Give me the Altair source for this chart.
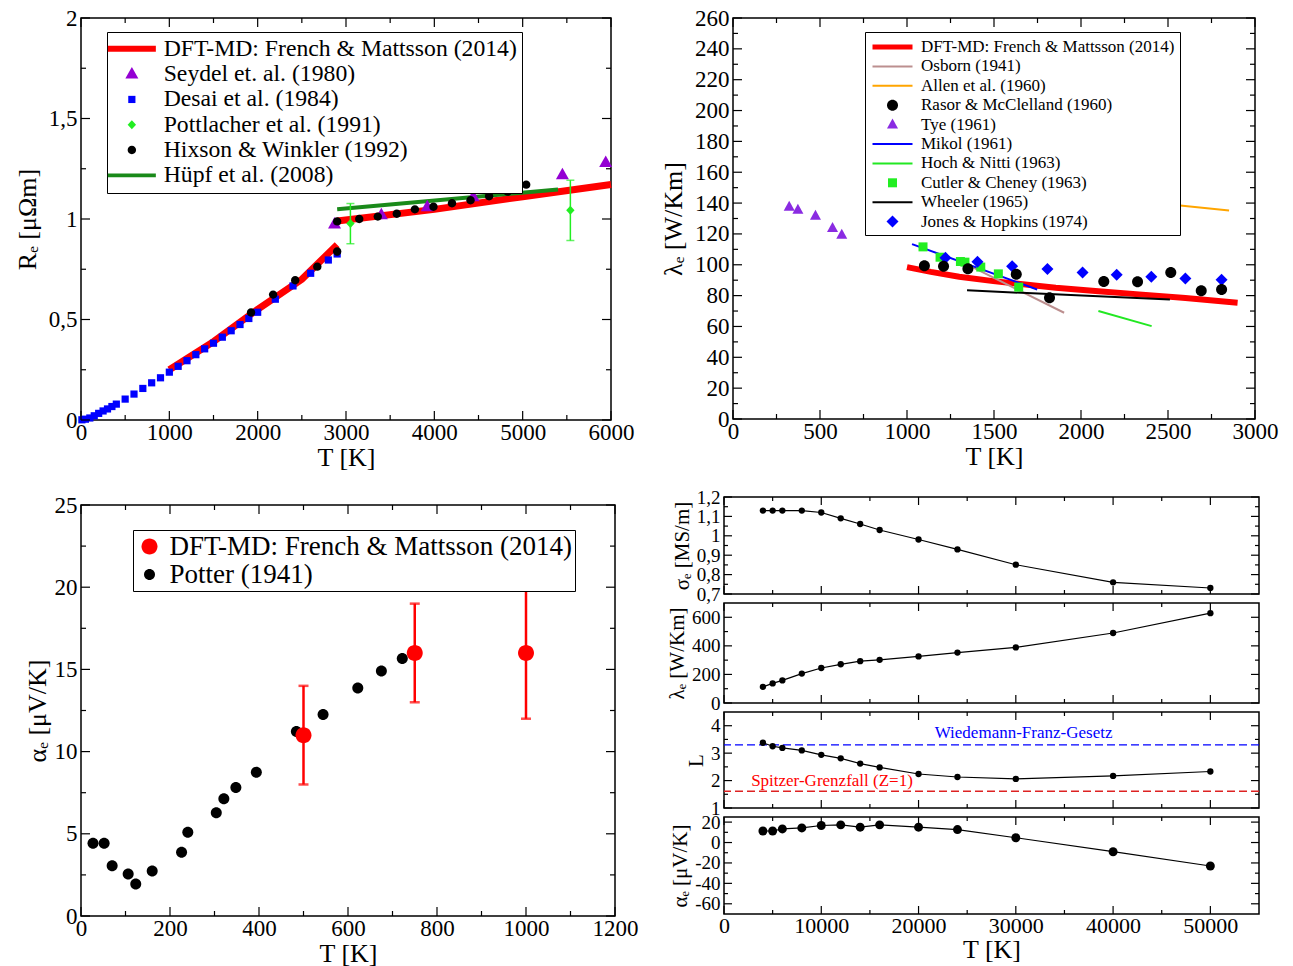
import altair as alt
import pandas as pd

FONT = "Liberation Serif"
LBL = "replace(replace(datum.label, '.', ','), '\u2212', '-')"

# ---------------- Panel 1: electrical resistivity ----------------
desai_T = [10, 50, 100, 150, 200, 250, 300, 350, 400, 500, 600, 700, 800, 900, 1000,
           1100, 1200, 1300, 1400, 1500, 1600, 1700, 1800, 1900, 2000, 2200, 2400, 2600, 2800, 2900]
desai_R = [0.001, 0.004, 0.010, 0.021, 0.033, 0.045, 0.055, 0.067, 0.079, 0.104, 0.129, 0.157,
           0.185, 0.210, 0.238, 0.267, 0.295, 0.325, 0.354, 0.382, 0.412, 0.444, 0.475, 0.505,
           0.536, 0.601, 0.667, 0.730, 0.796, 0.826]
seydel_T = [2870, 3400, 3920, 4440, 5450, 5940]
seydel_R = [0.975, 1.02, 1.06, 1.11, 1.22, 1.28]
pott_T = [3050, 5540]
pott_R = [0.977, 1.043]
pott_err = [0.10, 0.15]
hix_T = [1925, 2175, 2425, 2675, 2900, 2900, 3150, 3360, 3575, 3780, 3990, 4200, 4410, 4620, 4830, 5040]
hix_R = [0.535, 0.624, 0.695, 0.763, 0.838, 0.988, 1.000, 1.012, 1.026, 1.048, 1.061, 1.078,
         1.093, 1.113, 1.136, 1.171]
dft1_T = [1000, 1500, 2000, 2500, 2900]
dft1_R = [0.25, 0.39, 0.551, 0.70, 0.872]
dft2_T = [2900, 4000, 5000, 6000]
dft2_R = [0.99, 1.048, 1.111, 1.172]
hupf_T = [2900, 5400]
hupf_R = [1.048, 1.147]

# ---------------- Panel 2: thermal conductivity ----------------
tye_T = [323, 373, 474, 572, 625]
tye_L = [137.5, 135.6, 131.7, 123.7, 119.4]
rasor_T = [1100, 1210, 1350, 1628, 1819, 2131, 2325, 2516, 2691, 2808]
rasor_L = [99.3, 99.1, 97.4, 93.9, 78.6, 89.2, 89.0, 95.0, 83.1, 84.0]
jones_T = [1221, 1405, 1604, 1807, 2009, 2205, 2404, 2600, 2808]
jones_L = [104.5, 101.9, 99.1, 97.2, 95.0, 93.5, 92.2, 91.1, 90.3]
cutler_T = [1092, 1190, 1307, 1333, 1424, 1525, 1642]
cutler_L = [111.6, 104.9, 102.1, 101.7, 98.5, 94.1, 85.5]
dftl_T = [1000, 1137, 1300, 1496, 1855, 2100, 2334, 2600, 2900]
dftl_L = [98.5, 95.4, 92.2, 89.4, 85.1, 82.8, 80.8, 78.4, 75.4]
osborn_T = [1353, 1903]
osborn_L = [99.8, 68.9]
allen_T = [2500, 2851]
allen_L = [139.3, 135.2]
mikol_T = [1029, 1748]
mikol_L = [113.4, 84.0]
hoch_T = [2100, 2406]
hoch_L = [70.0, 60.2]
wheeler_T = [1345, 2511]
wheeler_L = [83.4, 77.5]

# ---------------- Panel 3: thermopower ----------------
potter_T = [27, 52, 70, 106, 123, 160, 226, 240, 304, 321, 348, 394, 484, 544, 622, 675, 722]
potter_A = [4.43, 4.43, 3.05, 2.56, 1.95, 2.74, 3.88, 5.10, 6.28, 7.13, 7.82, 8.75, 11.23,
            12.25, 13.87, 14.91, 15.66]
dfta_T = [500, 750, 1000]
dfta_A = [11.0, 16.0, 16.0]
dfta_err = [3.0, 3.0, 4.0]

# ---------------- Panel 4: high-temperature DFT-MD ----------------
hot_T = [4000, 5000, 6000, 8000, 10000, 12000, 14000, 16000, 20000, 24000, 30000, 40000, 50000]
hot_sigma = [1.13, 1.13, 1.13, 1.13, 1.12, 1.09, 1.061, 1.03, 0.981, 0.93, 0.851, 0.76, 0.731]
hot_lambda = [113, 137, 158, 206, 245, 271, 293, 302, 326, 353, 389, 490, 629]
hot_L = [3.38, 3.25, 3.19, 3.10, 2.94, 2.81, 2.62, 2.48, 2.24, 2.13, 2.06, 2.17, 2.33]
hot_alpha = [11.3, 11.3, 13.3, 14.3, 16.7, 17.3, 15.0, 17.3, 15.0, 12.7, 4.7, -9.0, -23.0]
L_wf = 3.30
L_spitzer = 1.61
note_text = ["Wiedemann-Franz-Gesetz", "Spitzer-Grenzfall (Z=1)"]
note_T = [30800, 11100]
note_L = [3.72, 1.99]
note_color = ["#0000ff", "#ff0000"]


def circ(r):
    return f"M{r},0A{r},{r},0,1,1,{-r},0A{r},{r},0,1,1,{r},0Z"


def sq(a):
    return f"M{-a},{-a}H{a}V{a}H{-a}Z"


def tri(a, h):
    return f"M0,{-h * 0.62}L{a},{h * 0.38}L{-a},{h * 0.38}Z"


def dia(a, b):
    return f"M0,{-b}L{a},0L0,{b}L{-a},0Z"


def bar(a, t):
    return f"M{-a},{-t}H{a}V{t}H{-a}Z"


def axis(values, title, fs, tfs, labels=True, tpad=6, lpad=4):
    return alt.Axis(values=values, title=title, format="~r", labelExpr=LBL, ticks=False,
                    domain=False, grid=False, labels=labels, labelFont=FONT, labelFontSize=fs,
                    labelColor="black", labelPadding=lpad, labelFlush=False, labelOverlap=False,
                    titleFont=FONT, titleFontSize=tfs, titleFontWeight="normal",
                    titleColor="black", titlePadding=tpad)


class Panel:
    def __init__(self, xdom, ydom, xax, yax):
        self.xs = alt.Scale(domain=xdom, nice=False, zero=False)
        self.ys = alt.Scale(domain=ydom, nice=False, zero=False)
        self.xax = xax
        self.yax = yax

    def X(self, f="T"):
        return alt.X(f"{f}:Q", scale=self.xs, axis=self.xax)

    def Y(self, f="V"):
        return alt.Y(f"{f}:Q", scale=self.ys, axis=self.yax)

    def frame_ticks(self, xmaj, xmin, ymaj, ymin, w, h, L=9, l=5):
        out = []
        for vals, ln in ((xmaj, L), (xmin, l)):
            base = alt.Chart(pd.DataFrame({"T": vals})).mark_rule(color="black", strokeWidth=1.2)
            out.append(base.encode(x=self.X(), y=alt.value(h), y2=alt.value(h - ln)))
            out.append(base.encode(x=self.X(), y=alt.value(0), y2=alt.value(ln)))
        for vals, ln in ((ymaj, L), (ymin, l)):
            base = alt.Chart(pd.DataFrame({"V": vals})).mark_rule(color="black", strokeWidth=1.2)
            out.append(base.encode(y=self.Y(), x=alt.value(0), x2=alt.value(ln)))
            out.append(base.encode(y=self.Y(), x=alt.value(w), x2=alt.value(w - ln)))
        return out

    def line(self, T, V, color, width):
        d = pd.DataFrame({"T": T, "V": V})
        return alt.Chart(d).mark_line(color=color, strokeWidth=width).encode(x=self.X(), y=self.Y())

    def errorbars(self, T, V, E, color, width, cap):
        d = pd.DataFrame({"T": T, "V": [v - e for v, e in zip(V, E)],
                          "hi": [v + e for v, e in zip(V, E)]})
        base = alt.Chart(d)
        return [
            base.mark_rule(color=color, strokeWidth=width).encode(x=self.X(), y=self.Y(), y2="hi:Q"),
            base.mark_tick(color=color, orient="horizontal", size=cap, thickness=width).encode(
                x=self.X(), y=self.Y()),
            base.mark_tick(color=color, orient="horizontal", size=cap, thickness=width).encode(
                x=self.X(), y=self.Y("hi")),
        ]


def points_df(groups):
    rows = []
    for name, T, V in groups:
        for t, v in zip(T, V):
            rows.append({"T": t, "V": v, "series": name})
    return pd.DataFrame(rows)


def legend(x, y, fs, rowpad, symoff, laboff, pad):
    return alt.Legend(orient="none", legendX=x, legendY=y, title=None, fillColor="white",
                      strokeColor="black", padding=pad, labelFont=FONT, labelFontSize=fs,
                      labelColor="black", labelLimit=0, symbolSize=400, symbolStrokeWidth=0,
                      symbolOpacity=1, rowPadding=rowpad, symbolOffset=symoff,
                      labelOffset=laboff)


def pts_layer(P, df, names, colors, shapes, leg):
    return alt.Chart(df).mark_point(filled=True, size=400, opacity=1, strokeWidth=0).encode(
        x=P.X(), y=P.Y(),
        color=alt.Color("series:N", scale=alt.Scale(domain=names, range=colors), legend=leg),
        shape=alt.Shape("series:N", scale=alt.Scale(domain=names, range=shapes), legend=leg),
    )


# ================= Panel 1 =================
W1, H1 = 530, 402
P1 = Panel([0, 6000], [0, 2],
           axis([0, 1000, 2000, 3000, 4000, 5000, 6000], "T [K]", 23, 26, tpad=0, lpad=1),
           axis([0, 0.5, 1, 1.5, 2], "Rₑ [μΩm]", 23, 26, tpad=8))
names1 = ["DFT-MD: French & Mattsson (2014)", "Seydel et. al. (1980)", "Desai et al. (1984)",
          "Pottlacher et al. (1991)", "Hixson & Winkler (1992)", "Hüpf et al. (2008)"]
colors1 = ["#ff0000", "#9400d3", "#0000ff", "#22ee22", "#000000", "#1a8a1a"]
shapes1 = [bar(2.4, 0.3), tri(0.65, 1.15), sq(0.36), dia(0.42, 0.45), circ(0.42), bar(2.4, 0.18)]
pts1 = points_df([(names1[2], desai_T, desai_R), (names1[1], seydel_T, seydel_R),
                  (names1[3], pott_T, pott_R), (names1[4], hix_T, hix_R)])
leg1 = legend(26, 14, 23.7, 0.3, 8, 20, 5)
p1 = alt.layer(
    P1.line(dft1_T, dft1_R, "#ff0000", 7),
    P1.line(dft2_T, dft2_R, "#ff0000", 7),
    P1.line(hupf_T, hupf_R, "#1a8a1a", 4),
    *P1.errorbars(pott_T, pott_R, pott_err, "#22ee22", 1.5, 8),
    pts_layer(P1, pts1, names1, colors1, shapes1, leg1),
    *P1.frame_ticks(list(range(0, 6001, 1000)), list(range(500, 6000, 1000)),
                    [0, 0.5, 1, 1.5, 2], [0.25, 0.75, 1.25, 1.75], W1, H1),
).properties(width=W1, height=H1)

# ================= Panel 2 =================
W2, H2 = 522, 401
P2 = Panel([0, 3000], [0, 260],
           axis(list(range(0, 3001, 500)), "T [K]", 23, 26, tpad=0, lpad=1),
           axis(list(range(0, 261, 20)), "λₑ [W/Km]", 23, 26, tpad=8))
names2 = ["DFT-MD: French & Mattsson (2014)", "Osborn (1941)", "Allen et al. (1960)",
          "Rasor & McClelland (1960)", "Tye (1961)", "Mikol (1961)", "Hoch & Nitti (1963)",
          "Cutler & Cheney (1963)", "Wheeler (1965)", "Jones & Hopkins (1974)"]
colors2 = ["#ff0000", "#bc8f8f", "#ffa500", "#000000", "#8a2be2", "#0000ff", "#22e822",
           "#22ee22", "#000000", "#0000ff"]
shapes2 = [bar(2.0, 0.26), bar(2.0, 0.1), bar(2.0, 0.1), circ(0.55), tri(0.55, 1.0),
           bar(2.0, 0.1), bar(2.0, 0.1), sq(0.45), bar(2.0, 0.1), dia(0.6, 0.6)]
pts2 = points_df([(names2[7], cutler_T, cutler_L), (names2[9], jones_T, jones_L),
                  (names2[4], tye_T, tye_L), (names2[3], rasor_T, rasor_L)])
leg2 = legend(132, 14, 17, 1.4, 12.5, 18.5, 5)
p2 = alt.layer(
    P2.line(dftl_T, dftl_L, "#ff0000", 6),
    P2.line(osborn_T, osborn_L, "#bc8f8f", 2),
    P2.line(allen_T, allen_L, "#ffa500", 2),
    P2.line(mikol_T, mikol_L, "#0000ff", 2),
    P2.line(hoch_T, hoch_L, "#22e822", 2),
    P2.line(wheeler_T, wheeler_L, "#000000", 2),
    pts_layer(P2, pts2, names2, colors2, shapes2, leg2),
    *P2.frame_ticks(list(range(0, 3001, 500)), list(range(250, 3000, 500)),
                    list(range(0, 261, 20)), list(range(10, 260, 20)), W2, H2),
).properties(width=W2, height=H2)

# ================= Panel 3 =================
W3, H3 = 534, 411
P3 = Panel([0, 1200], [0, 25],
           axis(list(range(0, 1201, 200)), "T [K]", 23, 26, tpad=0, lpad=1),
           axis([0, 5, 10, 15, 20, 25], "αₑ [μV/K]", 23, 26, tpad=4))
names3 = ["DFT-MD: French & Mattsson (2014)", "Potter (1941)"]
colors3 = ["#ff0000", "#000000"]
shapes3 = [circ(0.8), circ(0.55)]
pts3 = points_df([(names3[1], potter_T, potter_A), (names3[0], dfta_T, dfta_A)])
leg3 = legend(52, 25, 27, 0, 0, 6.5, 3)
p3 = alt.layer(
    *P3.errorbars(dfta_T, dfta_A, dfta_err, "#ff0000", 2.5, 10),
    pts_layer(P3, pts3, names3, colors3, shapes3, leg3),
    *P3.frame_ticks(list(range(0, 1201, 200)), list(range(100, 1200, 200)),
                    [0, 5, 10, 15, 20, 25], [2.5, 7.5, 12.5, 17.5, 22.5], W3, H3),
).properties(width=W3, height=H3)

# invisible strip above panel 3, so that the stack on the right sits a little higher
blank = alt.Chart(pd.DataFrame({"t": [""]})).mark_text(opacity=0).encode(text="t:N").properties(
    width=W3, height=1, view=alt.ViewBackground(stroke="transparent"))
left_col = alt.vconcat(blank, p3, spacing=7, bounds="flush").resolve_scale(
    color="independent", shape="independent")

# ================= Panel 4 (stack) =================
W4 = 535
xmaj4 = list(range(0, 50001, 10000))
xmin4 = list(range(5000, 55000, 10000))


def stack_panel(vals, dom, title, h, ymaj, ymin, show_x, psize, extra=None):
    P = Panel([0, 55000], dom,
              axis(xmaj4, "T [K]" if show_x else "", 22, 26, labels=show_x, tpad=0, lpad=1),
              axis(ymaj, title, 19, 21, tpad=4))
    d = pd.DataFrame({"T": hot_T, "V": vals})
    base = alt.Chart(d)
    layers = []
    if extra:
        layers += extra(P)
    layers += [base.mark_line(color="black", strokeWidth=1.2).encode(x=P.X(), y=P.Y()),
               base.mark_point(filled=True, size=psize, opacity=1, color="black",
                               strokeWidth=0).encode(x=P.X(), y=P.Y())]
    layers += P.frame_ticks(xmaj4, xmin4, ymaj, ymin, W4, h, L=8, l=4)
    return alt.layer(*layers).properties(width=W4, height=h)


def L_extras(P):
    out = []
    for val, col in ((L_wf, "#0000ff"), (L_spitzer, "#dd2222")):
        d = pd.DataFrame({"V": [val]})
        out.append(alt.Chart(d).mark_rule(color=col, strokeWidth=1.3, strokeDash=[8, 4]).encode(
            y=P.Y()))
    d = pd.DataFrame({"T": note_T, "V": note_L, "txt": note_text, "col": note_color})
    out.append(alt.Chart(d).mark_text(font=FONT, fontSize=17).encode(
        x=P.X(), y=P.Y(), text="txt:N", color=alt.Color("col:N", scale=None)))
    return out


s_sigma = stack_panel(hot_sigma, [0.7, 1.2], "σₑ [MS/m]", 97, [0.7, 0.8, 0.9, 1.0, 1.1, 1.2],
                      [0.75, 0.85, 0.95, 1.05, 1.15], False, 40)
s_lambda = stack_panel(hot_lambda, [0, 700], "λₑ [W/Km]", 100, [0, 200, 400, 600],
                       [100, 300, 500], False, 40)
s_L = stack_panel(hot_L, [1, 4.5], "L", 96, [1, 2, 3, 4], [1.5, 2.5, 3.5], False, 40,
                  extra=L_extras)
s_alpha = stack_panel(hot_alpha, [-70, 25], "αₑ [μV/K]", 97, [-60, -40, -20, 0, 20],
                      [-50, -30, -10, 10], True, 80)
stack = alt.vconcat(s_sigma, s_lambda, s_L, s_alpha, spacing=9, bounds="flush")

IND = dict(color="independent", shape="independent")
top = alt.hconcat(p1, p2, spacing=24).resolve_scale(**IND).resolve_legend(**IND)
bottom = alt.hconcat(left_col, stack, spacing=26).resolve_scale(**IND).resolve_legend(**IND)
chart = alt.vconcat(top, bottom, spacing=16).resolve_scale(**IND).resolve_legend(**IND).configure(
    font=FONT, background="white", padding={"left": 13, "top": 6, "right": 2, "bottom": 0}
).configure_view(stroke="black", strokeWidth=1.5)

chart.save("out.html", embed_options={"renderer": "svg", "actions": False})
